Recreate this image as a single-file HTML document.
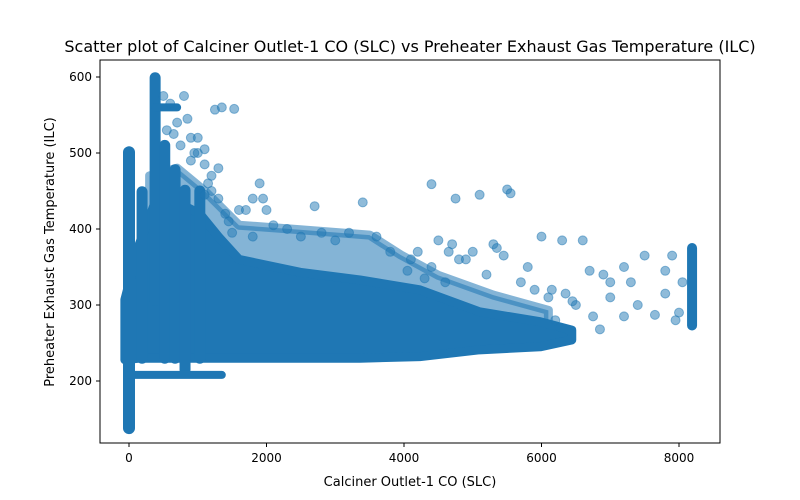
<!DOCTYPE html>
<html><head><meta charset="utf-8"><style>
body{margin:0;background:#fff;font-family:"DejaVu Sans","Liberation Sans",sans-serif}
svg{display:block}
</style></head><body>
<svg id="chart" width="800" height="500">
<rect x="0" y="0" width="800" height="500" fill="#fff"/>
<text x="410" y="52" font-size="16" text-anchor="middle">Scatter plot of Calciner Outlet-1 CO (SLC) vs Preheater Exhaust Gas Temperature (ILC)</text>
<g id="marks"></g>
<rect x="100" y="60" width="620" height="383" fill="none" stroke="#000" stroke-width="1"/>
<g id="xt"></g>
<g id="yt"></g>
<text x="410" y="486" font-size="13" text-anchor="middle">Calciner Outlet-1 CO (SLC)</text>
<text transform="translate(54,252) rotate(-90)" font-size="13" text-anchor="middle">Preheater Exhaust Gas Temperature (ILC)</text>
</svg>
<script>
const xTicks=[0,2000,4000,6000,8000];
const yTicks=[200,300,400,500,600];
// dense core envelope
const envX=[-60,150,400,700,1030,1300,1600,2490,3360,4230,5100,5980,6440];
const envLow=[228,230,230,230,230,230,230,230,230,232,241,245,254];
const envHigh=[307,380,440,435,420,390,360,343,333,320,291,278,267];
// semi-dense envelope
const medX=[300,700,1100,1600,2490,3500,3950,4500,5300,6100];
const medLow=[232,232,232,232,232,232,232,236,245,250];
const medHigh=[470,480,450,405,399,392,366,339,313,293];
// vertical stripes [x, low, high]
const stripeX=[0,190,380,520,670,815,1030];
const stripeLow=[138,230,306,230,230,215,230];
const stripeHigh=[501,449,599,510,478,451,450];
// horizontal bands
const bandY=[208,560];
const bandX0=[0,380];
const bandX1=[1350,700];
// column at sensor max
const maxColX=[8190];
const maxColLow=[273];
const maxColHigh=[375];
// outlier points
const ptX=[1250,1350,1530,1100,1300,1900,1950,2000,2700,3400,4400,4750,5100,5500,5550,6000,6300,6600,6700,6900,7000,7200,7300,7500,7650,7800,7900,8050,7400,6850,6750,7200,6450,5900,5700,5300,5000,4800,4200,4500,4300,6100,6500,7000,7800,8000,7950,6200,5800,5200,4600,2300,2800,3200,3600,2100,1800,1600,1700,1100,1200,1800,3800,4100,4700,2500,3000,1500,4900,5350,5450,6150,6350,4050,4400,4650,500,600,800,900,700,1000,1100,1200,900,1300,1000,550,750,850,950,650,1150,1400,1450];
const ptY=[557,560,558,505,480,460,440,425,430,435,459,440,445,452,447,390,385,385,345,340,330,350,330,365,287,345,365,330,300,268,285,285,305,320,330,380,370,360,370,385,335,310,300,310,315,290,280,280,350,340,330,400,395,395,390,405,390,425,425,445,450,440,370,360,380,390,385,395,360,375,365,320,315,345,350,370,575,565,575,520,540,500,485,470,490,440,520,530,510,545,500,525,460,420,410];

const X0=129,XS=137.5/2000,Y0=381,YS=0.76;
const sx=v=>X0+v*XS, sy=v=>Y0-(v-200)*YS;
const NS='http://www.w3.org/2000/svg';
const g=document.getElementById('marks');
const C='#1f77b4';
function mk(t,a){const e=document.createElementNS(NS,t);for(const k in a)e.setAttribute(k,a[k]);return e;}
function env(xs,lo,hi,op,name){
  let pts=xs.map((x,i)=>sx(x)+','+sy(hi[i]));
  for(let i=xs.length-1;i>=0;i--)pts.push(sx(xs[i])+','+sy(lo[i]));
  const p=mk('polygon',{points:pts.join(' '),fill:C,stroke:C,'stroke-width':9,'stroke-linejoin':'round','fill-opacity':op,'stroke-opacity':op});
  
  
  g.appendChild(p);
}
env(medX,medLow,medHigh,0.55,'semi-dense-region');
env(envX,envLow,envHigh,1,'dense-core-region');
function vline(x,lo,hi,w,name){
  const l=mk('line',{x1:sx(x),x2:sx(x),y1:sy(lo),y2:sy(hi),stroke:C,'stroke-width':w,'stroke-linecap':'round'});
  
  
  g.appendChild(l);
}
stripeX.forEach((x,i)=>vline(x,stripeLow[i],stripeHigh[i],i===0?12:11,'point-stripe'));
maxColX.forEach((x,i)=>vline(x,maxColLow[i],maxColHigh[i],10,'max-value-column'));
bandY.forEach((y,i)=>{
  const l=mk('line',{x1:sx(bandX0[i]),x2:sx(bandX1[i]),y1:sy(y),y2:sy(y),stroke:C,'stroke-width':8,'stroke-linecap':'round'});
  
  
  g.appendChild(l);
});
ptX.forEach((x,i)=>{
  const c=mk('circle',{cx:sx(x),cy:sy(ptY[i]),r:4.5,fill:C,'fill-opacity':0.5,stroke:C,'stroke-opacity':0.5,'stroke-width':1});
  
  
  g.appendChild(c);
});
const xt=document.getElementById('xt'),yt=document.getElementById('yt');
xTicks.forEach(v=>{
  const l=mk('line',{x1:sx(v),x2:sx(v),y1:443,y2:447,stroke:'#000'});
  
  
  xt.appendChild(l);
  const t=mk('text',{x:sx(v),y:462,'font-size':12,'text-anchor':'middle'});
  t.textContent=v;
  
  
  xt.appendChild(t);
});
yTicks.forEach(v=>{
  const l=mk('line',{x1:96,x2:100,y1:sy(v),y2:sy(v),stroke:'#000'});
  
  
  yt.appendChild(l);
  const t=mk('text',{x:92,y:sy(v)+4,'font-size':12,'text-anchor':'end'});
  t.textContent=v;
  
  
  yt.appendChild(t);
});
</script>
</body></html>
